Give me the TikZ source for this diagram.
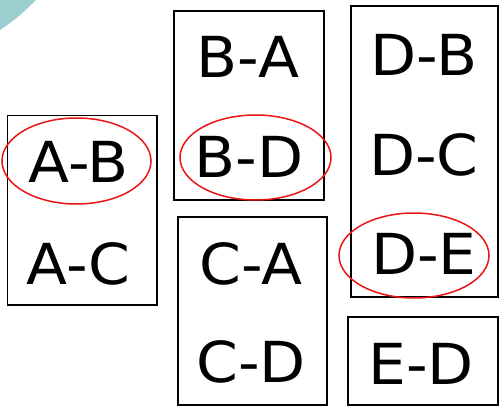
\documentclass[tikz,border=0pt]{standalone}
\usepackage{fontspec}
\setmainfont{DejaVu Sans}[FakeStretch=1.06]
\usepackage{tikz}
\usetikzlibrary{shapes.geometric}
\definecolor{cornerteal}{RGB}{155, 207, 207}
\definecolor{markred}{RGB}{235, 20, 20}

\begin{document}
\begin{tikzpicture}[
    x=1pt, y=-1pt,
    grpbox/.style={rectangle, draw=black, line width=1.6pt, inner sep=0pt},
    pairtxt/.style={inner sep=0pt, font=\fontsize{56.5}{60}\selectfont},
    ring/.style={ellipse, draw=markred, line width=1.5pt, inner sep=0pt}
]
    \useasboundingbox (0, 0) rectangle (499, 407);

    % Corner decoration
    \begin{scope}
        \clip (0, 0) rectangle (499, 407);
        \fill[cornerteal] (-102, -128) circle[radius=188pt];
    \end{scope}

    % Group A
    \node[grpbox, minimum width=149.5pt, minimum height=189.3pt] (boxA) at (82.3, 210.3) {};
    \node[pairtxt] (ab) at (78.5, 162) {A-B};
    \node[pairtxt] (ac) at (78.5, 263.5) {A-C};

    % Group B
    \node[grpbox, minimum width=150pt, minimum height=189pt] (boxB) at (249, 105.5) {};
    \node[pairtxt] (ba) at (248, 56.5) {B-A};
    \node[pairtxt] (bd) at (249, 157) {B-D};

    % Group C
    \node[grpbox, minimum width=149pt, minimum height=188pt] (boxC) at (252.5, 311) {};
    \node[pairtxt] (ca) at (251, 263.5) {C-A};
    \node[pairtxt] (cd) at (251, 362) {C-D};

    % Group D
    \node[grpbox, minimum width=147pt, minimum height=291pt] (boxD) at (424.5, 151.5) {};
    \node[pairtxt] (db) at (424, 55) {D-B};
    \node[pairtxt] (dc) at (424, 155) {D-C};
    \node[pairtxt] (de) at (424, 254) {D-E};

    % Group E
    \node[grpbox, minimum width=150pt, minimum height=88pt] (boxE) at (423, 361) {};
    \node[pairtxt] (ed) at (421, 363.5) {E-D};

    % Marked pairs
    \node[ring, minimum width=149pt, minimum height=86pt] (ringAB) at (76.5, 161) {};
    \node[ring, minimum width=151pt, minimum height=85pt] (ringBD) at (255.5, 157.5) {};
    \node[ring, minimum width=150pt, minimum height=85pt] (ringDE) at (414, 255.5) {};
\end{tikzpicture}
\end{document}
